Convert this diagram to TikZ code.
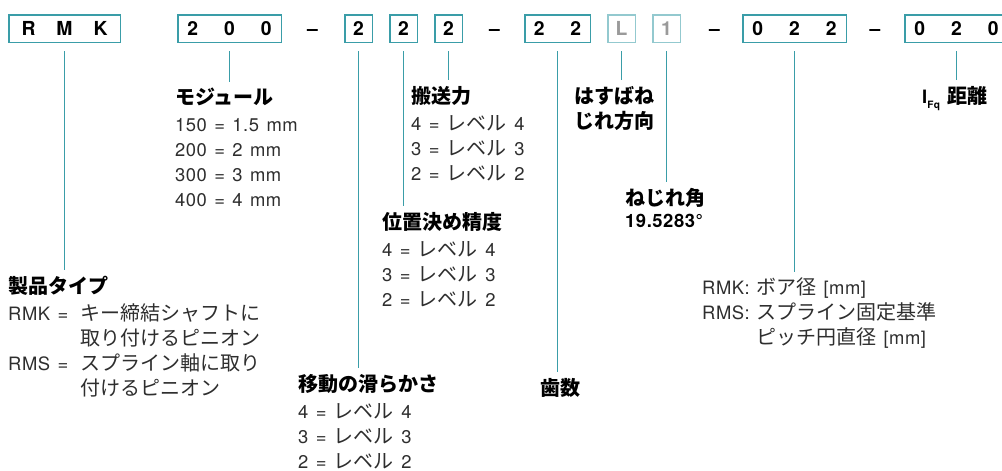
\documentclass[tikz,border=0pt]{standalone}
\usepackage{fontspec}
\setmainfont{TeX Gyre Heros}[Scale=0.92, LetterSpace=3, WordSpace=1.3]
\newfontfamily\jpfont{Noto Sans CJK JP}
\usepackage{xcolor}
\usepackage{tikz}
\usetikzlibrary{positioning}
\definecolor{rmteal}{HTML}{3A9DA8}
\definecolor{rmgray}{HTML}{2E2E2E}
\definecolor{rmfade}{HTML}{9A9A9A}
\newcommand\jptxt[1]{{\jpfont #1}}
\newcommand\headl[1]{{\color{black}\bfseries\jpfont #1}}
\newcommand\dg{\hspace{26pt}}
\newcommand\hang[2]{\makebox[#1][l]{#2}}
\tikzstyle{code}=[rectangle, draw=rmteal, line width=1.5pt, minimum height=27.5pt,
        inner sep=0pt, text height=14pt, text depth=0pt, text=black,
        font=\fontsize{21}{25}\selectfont\bfseries]
\tikzstyle{faded}=[code, draw=rmteal!55, text=rmfade]
\tikzstyle{joiner}=[inner sep=0pt, text height=14pt, text depth=0pt,
        font=\fontsize{21}{25}\selectfont\bfseries]
\tikzstyle{info}=[anchor=north west, inner sep=0pt, align=left, text=rmgray,
        font=\fontsize{20}{25}\selectfont]
\tikzstyle{lead}=[draw=rmteal, line width=1.5pt, shorten >=6pt]

\begin{document}
\begin{tikzpicture}[x=1pt, y=-1pt]
        \useasboundingbox (0,0) rectangle (1002,471);
        % code boxes
        \node (rmk) [code, minimum width=111.5pt] at (64.5,28.5) {R\hspace{21pt}M\hspace{21pt}K};
        \node (modul) [code, minimum width=103.5pt] at (229.5,28.5) {2\dg0\dg0};
        \node (d1) [joiner] at (312.5,28.5) {–};
        \node (smooth) [code, minimum width=27.5pt] at (358.5,28.5) {2};
        \node (accur) [code, minimum width=27.5pt] at (403.5,28.5) {2};
        \node (feed) [code, minimum width=27.5pt] at (448.5,28.5) {2};
        \node (d2) [joiner] at (494.5,28.5) {–};
        \node (teeth) [code, minimum width=65.5pt] at (557.5,28.5) {2\dg2};
        \node (hand) [faded, minimum width=27.5pt] at (621.5,28.5) {L};
        \node (angle) [faded, minimum width=27.5pt] at (666.5,28.5) {1};
        \node (d3) [joiner] at (714.5,28.5) {–};
        \node (bore) [code, minimum width=103.5pt] at (794.5,28.5) {0\dg2\dg2};
        \node (d4) [joiner] at (875,28.5) {–};
        \node (dist) [code, minimum width=103.5pt] at (956.5,28.5) {0\dg2\dg0};

        % explanations
        \node (typL) [info] at (8,276)
        {
          \headl{製品タイプ}\\[2pt]
          \hang{72pt}{RMK =}\jptxt{キー締結シャフトに}\\
          \hang{72pt}{}\jptxt{取り付けるピニオン}\\
          \hang{72pt}{RMS =}\jptxt{スプライン軸に取り}\\
          \hang{72pt}{}\jptxt{付けるピニオン}
        };
        \node (modulL) [info] at (175,88)
        {
          \headl{モジュール}\\[2pt]
          150 = 1.5 mm\\ 200 = 2 mm\\ 300 = 3 mm\\ 400 = 4 mm
        };
        \node (smoothL) [info] at (298,374)
        {
          \headl{移動の滑らかさ}\\[2pt]
          4 = \jptxt{レベル} 4\\ 3 = \jptxt{レベル} 3\\ 2 = \jptxt{レベル} 2
        };
        \node (accurL) [info] at (382,212)
        {
          \headl{位置決め精度}\\[2pt]
          4 = \jptxt{レベル} 4\\ 3 = \jptxt{レベル} 3\\ 2 = \jptxt{レベル} 2
        };
        \node (feedL) [info] at (411,86)
        {
          \headl{搬送力}\\[2pt]
          4 = \jptxt{レベル} 4\\ 3 = \jptxt{レベル} 3\\ 2 = \jptxt{レベル} 2
        };
        \node (teethL) [info] at (540,378) {\headl{歯数}};
        \node (handL) [info, anchor=north, align=center] at (614,86)
        {
          \headl{はすばね}\\ \headl{じれ方向}
        };
        \node (angleL) [info] at (625,188) {\headl{ねじれ角}};
        \node (angleV) [info, text=black, below right=6pt and 0pt of angleL.south west]
        {\bfseries 19.5283°};
        \node (boreL) [info] at (702,278)
        {
          \hang{54pt}{RMK:}\jptxt{ボア径} [mm]\\
          \hang{54pt}{RMS:}\jptxt{スプライン固定基準}\\
          \hang{54pt}{}\jptxt{ピッチ円直径} [mm]
        };
        \node (distL) [info, text=black] at (922,86)
        {
          {\bfseries I\raisebox{-5pt}{\fontsize{11}{11}\selectfont Fq}} \headl{距離}
        };

        % leads
        \draw[lead] ([yshift=-8pt]rmk.south) -- (rmk.south |- typL.north);
        \draw[lead] ([yshift=-8pt]modul.south) -- (modul.south |- modulL.north);
        \draw[lead] ([yshift=-8pt]smooth.south) -- (smooth.south |- smoothL.north);
        \draw[lead] ([yshift=-8pt]accur.south) -- (accur.south |- accurL.north);
        \draw[lead] ([yshift=-8pt]feed.south) -- (feed.south |- feedL.north);
        \draw[lead] ([yshift=-8pt]teeth.south) -- (teeth.south |- teethL.north);
        \draw[lead] ([yshift=-8pt]hand.south) -- (hand.south |- handL.north);
        \draw[lead] ([yshift=-8pt]angle.south) -- (angle.south |- angleL.north);
        \draw[lead] ([yshift=-8pt]bore.south) -- (bore.south |- boreL.north);
        \draw[lead] ([yshift=-8pt]dist.south) -- (dist.south |- distL.north);
      \end{tikzpicture}
\end{document}
